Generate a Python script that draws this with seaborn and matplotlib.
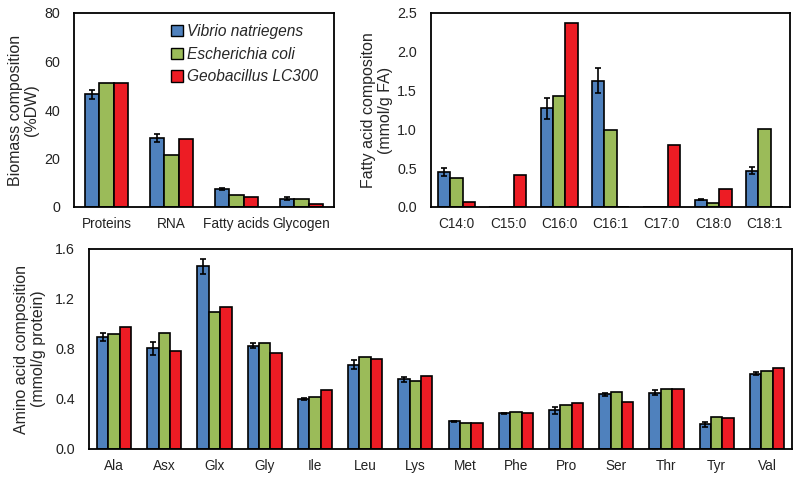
"""
Biomass, fatty acid and amino acid composition of three organisms
"""
import numpy as np
import pandas as pd
import matplotlib
matplotlib.use("Agg")
import matplotlib.pyplot as plt
import seaborn as sns

organisms = ["Vibrio natriegens", "Escherichia coli", "Geobacillus LC300"]
colors = ["#4F81BD", "#9BBB59", "#ED1C24"]

# Biomass composition (%DW)
biomass_cats = ["Proteins", "RNA", "Fatty acids", "Glycogen"]
biomass_vn = [46.5, 28.5, 7.5, 3.5]
biomass_ec = [51.0, 21.5, 4.8, 3.2]
biomass_gb = [51.0, 28.0, 4.0, 1.3]
biomass_err = [1.8, 1.5, 0.5, 0.5]

# Fatty acid composition (mmol/g FA)
fa_cats = ["C14:0", "C15:0", "C16:0", "C16:1", "C17:0", "C18:0", "C18:1"]
fa_vn = [0.45, 0.0, 1.27, 1.63, 0.0, 0.095, 0.47]
fa_ec = [0.38, 0.0, 1.43, 0.99, 0.0, 0.05, 1.0]
fa_gb = [0.065, 0.41, 2.375, 0.0, 0.80, 0.235, 0.0]
fa_err = [0.05, 0.0, 0.13, 0.16, 0.0, 0.01, 0.05]

# Amino acid composition (mmol/g protein)
aa_cats = ["Ala", "Asx", "Glx", "Gly", "Ile", "Leu", "Lys",
           "Met", "Phe", "Pro", "Ser", "Thr", "Tyr", "Val"]
aa_vn = [0.896, 0.805, 1.461, 0.827, 0.40, 0.675, 0.56,
         0.221, 0.285, 0.309, 0.437, 0.451, 0.20, 0.603]
aa_ec = [0.923, 0.925, 1.096, 0.845, 0.42, 0.739, 0.547,
         0.205, 0.299, 0.349, 0.456, 0.48, 0.256, 0.621]
aa_gb = [0.98, 0.787, 1.139, 0.765, 0.472, 0.723, 0.581,
         0.205, 0.291, 0.371, 0.379, 0.48, 0.251, 0.645]
aa_err = [0.035, 0.05, 0.06, 0.02, 0.005, 0.035, 0.02,
          0.005, 0.005, 0.025, 0.01, 0.02, 0.02, 0.01]


def make_frame(cats, vn, ec, gb):
    rows = []
    for org, vals in zip(organisms, [vn, ec, gb]):
        for c, v in zip(cats, vals):
            rows.append({"cat": c, "org": org, "value": v})
    return pd.DataFrame(rows)


def draw_panel(ax, cats, vn, ec, gb, err, width, ylim, yticks, ylabel, fmt,
               labelpad):
    df = make_frame(cats, vn, ec, gb)
    sns.barplot(data=df, x="cat", y="value", hue="org", hue_order=organisms,
                palette=colors, width=width, edgecolor="black", linewidth=1.2,
                saturation=1, errorbar=None, ax=ax, legend=False)
    # error bars for the Vibrio series, taken from the drawn bars
    bars = ax.containers[0]
    xs = [b.get_x() + b.get_width() / 2 for b in bars]
    ys = [b.get_height() for b in bars]
    e = np.array(err)
    mask = e > 0
    ax.errorbar(np.array(xs)[mask], np.array(ys)[mask], yerr=e[mask],
                fmt="none", ecolor="black", elinewidth=1.2, capsize=2.5,
                capthick=1.2)
    ax.set_ylim(*ylim)
    ax.set_yticks(yticks)
    ax.set_yticklabels([fmt.format(t) for t in yticks])
    ax.set_xlim(-0.5, len(cats) - 0.5)
    ax.set_xlabel("")
    ax.set_ylabel(ylabel, fontsize=11.5, linespacing=1.15, labelpad=labelpad)
    ax.tick_params(axis="y", direction="in", length=3, labelsize=10.3, pad=10,
                   labelcolor="#222222")
    ax.tick_params(axis="x", length=0, labelsize=9.8, pad=7,
                   labelcolor="#222222")
    for s in ax.spines.values():
        s.set_color("black")
        s.set_linewidth(1.3)


sns.set_theme(style="white")
plt.rcParams["font.family"] = ["Liberation Sans", "DejaVu Sans"]

fig = plt.figure(figsize=(8, 4.8), dpi=100)
ax1 = fig.add_axes([74 / 800, 1 - 207 / 480, 260 / 800, 194 / 480])
ax2 = fig.add_axes([431 / 800, 1 - 207 / 480, 359 / 800, 194 / 480])
ax3 = fig.add_axes([89 / 800, 1 - 449 / 480, 703 / 800, 200 / 480])

draw_panel(ax1, biomass_cats, biomass_vn, biomass_ec, biomass_gb, biomass_err,
           0.65, (0, 80), [0, 20, 40, 60, 80],
           "Biomass composition\n(%DW)", "{:.0f}", 3.5)
draw_panel(ax2, fa_cats, fa_vn, fa_ec, fa_gb, fa_err,
           0.72, (0, 2.5), [0, 0.5, 1.0, 1.5, 2.0, 2.5],
           "Fatty acid compositon\n(mmol/g FA)", "{:.1f}", 3)
draw_panel(ax3, aa_cats, aa_vn, aa_ec, aa_gb, aa_err,
           0.68, (0, 1.6), [0, 0.4, 0.8, 1.2, 1.6],
           "Amino acid composition\n(mmol/g protein)", "{:.1f}", 7)

handles = [plt.Rectangle((0, 0), 1, 1, facecolor=c, edgecolor="black",
                         linewidth=1.0) for c in colors]
ax1.legend(handles, organisms, loc="upper right", frameon=False,
           prop={"style": "italic", "size": 11.2}, handlelength=0.75,
           handleheight=0.75, handletextpad=0.25, labelspacing=0.5,
           borderaxespad=0.3, bbox_to_anchor=(0.98, 1.0))

fig.savefig("out.png", dpi=100)
